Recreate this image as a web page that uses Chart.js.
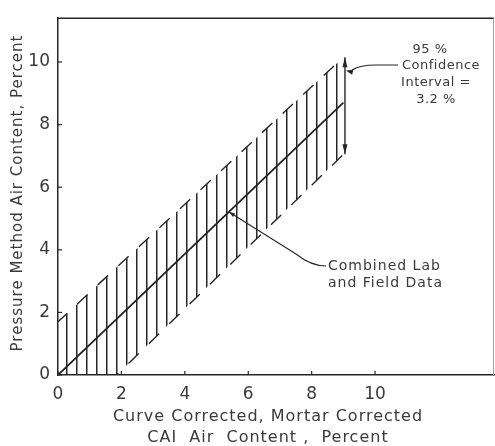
<!DOCTYPE html>
<html lang="en">
<head>
  <meta charset="UTF-8">
  <script src="https://cdn.jsdelivr.net/npm/chart.js"></script>
  <title>Air Content</title>
  <style>
    html, body { margin: 0; padding: 0; background: #fff; }
    #wrap { width: 495px; height: 446px; }
  </style>
</head>
<body>
  <div id="wrap"><canvas id="airChart" width="495" height="446"></canvas></div>

  <script>
    // values
    const centerX = [0, 9];
    const centerY = [0, 8.7];
    const upperX = [0, 9];
    const upperY = [1.7, 10.15];
    const lowerX = [0, 1.85, 9];
    const lowerY = [0, 0, 7.05];
    const xTicks = [0, 2, 4, 6, 8, 10];
    const yTicks = [0, 2, 4, 6, 8, 10];
    const xTickLabels = ['0', '2', '4', '6', '8', '10'];
    const yTickLabels = ['0', '2', '4', '6', '8', '10'];
    const ciX = 9.05;
    const ciLow = 7.05;
    const ciHigh = 10.15;
    const ciNote = ['95 %', 'Confidence', 'Interval =', '3.2 %'];
    const fitNote = ['Combined Lab', 'and Field Data'];
    const xTitle = ['Curve Corrected, Mortar Corrected', 'CAI  Air  Content ,  Percent'];
    const yTitle = 'Pressure Method Air Content, Percent';

    const ink = '#262626';
    const textInk = '#3a3a3a';
    const ctx = document.getElementById('airChart').getContext('2d');

    // vertical hatching for the confidence band
    const tile = document.createElement('canvas');
    tile.width = 10; tile.height = 10;
    const tctx = tile.getContext('2d');
    tctx.fillStyle = ink;
    tctx.fillRect(4, 0, 1.5, 10);
    const hatch = ctx.createPattern(tile, 'repeat');
    hatch.setTransform(new DOMMatrix().translateSelf(62, 0));

    const toPts = (xs, ys) => xs.map((x, i) => ({ x: x, y: ys[i] }));

    function arrowHead(c, x, y, ang, len, half) {
      c.save();
      c.translate(x, y);
      c.rotate(ang);
      c.beginPath();
      c.moveTo(0, 0);
      c.lineTo(-len, -half);
      c.lineTo(-len, half);
      c.closePath();
      c.fill();
      c.restore();
    }

    const extras = {
      id: 'extras',
      afterDraw(chart) {
        const c = chart.ctx;
        const a = chart.chartArea;
        const xs = chart.scales.x, ys = chart.scales.y;
        c.save();
        c.strokeStyle = ink;
        c.fillStyle = ink;

        // frame top and right
        c.lineWidth = 1.5;
        c.beginPath(); c.moveTo(a.left, a.top); c.lineTo(a.right, a.top); c.stroke();
        c.strokeStyle = '#a0a0a0';
        c.lineWidth = 1;
        c.beginPath(); c.moveTo(a.right - 0.5, a.top); c.lineTo(a.right - 0.5, a.bottom); c.stroke();
        c.strokeStyle = ink;

        // small inward ticks
        c.lineWidth = 1.2;
        xs.ticks.forEach(t => {
          const px = xs.getPixelForValue(t.value);
          c.beginPath(); c.moveTo(px, a.bottom); c.lineTo(px, a.bottom - 4); c.stroke();
        });
        ys.ticks.forEach(t => {
          const py = ys.getPixelForValue(t.value);
          c.beginPath(); c.moveTo(a.left, py); c.lineTo(a.left + 4, py); c.stroke();
        });

        // confidence interval double arrow
        const cx = xs.getPixelForValue(ciX);
        const cTop = ys.getPixelForValue(ciHigh);
        const cBot = ys.getPixelForValue(ciLow);
        c.lineWidth = 1.4;
        c.beginPath(); c.moveTo(cx, cTop); c.lineTo(cx, cBot); c.stroke();
        arrowHead(c, cx, cTop, -Math.PI / 2, 10, 2.5);
        arrowHead(c, cx, cBot, Math.PI / 2, 10, 2.5);

        // leader to confidence note
        c.lineWidth = 1.1;
        c.beginPath();
        c.moveTo(398, 65);
        c.lineTo(376, 65);
        c.quadraticCurveTo(360, 65, 352, 70);
        c.stroke();
        arrowHead(c, cx + 1, 70.5, Math.PI + 0.25, 7, 2.5);

        // leader to fitted line note
        c.beginPath();
        c.moveTo(229, 212);
        c.lineTo(296, 254);
        c.quadraticCurveTo(311, 266, 326, 266);
        c.stroke();
        arrowHead(c, 229, 212, Math.atan2(-42, -67), 6, 2);

        // notes
        c.fillStyle = textInk;
        c.textBaseline = 'middle';
        c.font = '13px "DejaVu Sans"';
        c.letterSpacing = '0.5px';
        c.textAlign = 'center';
        const noteX = [430, 441, 436, 436];
        const noteY = [50, 66, 83, 100];
        ciNote.forEach((s, i) => c.fillText(s, noteX[i], noteY[i]));

        c.font = '14px "DejaVu Sans"';
        c.letterSpacing = '1px';
        c.textAlign = 'left';
        fitNote.forEach((s, i) => c.fillText(s, 328, 266 + i * 17.5));

        // axis titles
        c.font = '16px "DejaVu Sans"';
        c.letterSpacing = '1px';
        c.textAlign = 'center';
        xTitle.forEach((s, i) => c.fillText(s, 268, 417 + i * 21));

        c.font = '15px "DejaVu Sans"';
        c.letterSpacing = '1px';
        c.translate(18, 193);
        c.rotate(-Math.PI / 2);
        c.fillText(yTitle, 0, 0);
        c.restore();
      }
    };

    new Chart(ctx, {
      type: 'line',
      data: {
        datasets: [
          {
            label: 'Upper limit',
            data: toPts(upperX, upperY),
            borderColor: ink,
            borderWidth: 1.4,
            borderDash: [14, 14],
            borderDashOffset: 1.7,
            backgroundColor: hatch,
            fill: '+1',
            pointRadius: 0,
            tension: 0
          },
          {
            label: 'Lower limit',
            data: toPts(lowerX, lowerY),
            borderColor: ink,
            borderWidth: 1.4,
            borderDash: [14.2, 14.2],
            borderDashOffset: 10,
            fill: false,
            pointRadius: 0,
            tension: 0
          },
          {
            label: 'Combined Lab and Field Data',
            data: toPts(centerX, centerY),
            borderColor: '#1c1c1c',
            borderWidth: 1.7,
            fill: false,
            pointRadius: 0,
            tension: 0
          }
        ]
      },
      options: {
        responsive: false,
        animation: false,
        layout: { padding: { top: 10, right: 1, left: 0, bottom: 0 } },
        plugins: {
          legend: { display: false },
          tooltip: { enabled: false }
        },
        scales: {
          x: {
            type: 'linear',
            min: 0,
            max: 13.75,
            afterBuildTicks: axis => { axis.ticks = xTicks.map(v => ({ value: v })); },
            afterFit: axis => { axis.height = 71; },
            grid: { display: false, drawTicks: false },
            border: { display: true, color: ink, width: 1.5 },
            ticks: {
              padding: 9,
              color: textInk,
              font: { family: 'DejaVu Sans', size: 17 },
              autoSkip: false,
              maxRotation: 0,
              callback: (v) => xTickLabels[xTicks.indexOf(v)]
            }
          },
          y: {
            type: 'linear',
            min: 0,
            max: 11.4,
            afterBuildTicks: axis => { axis.ticks = yTicks.map(v => ({ value: v })); },
            afterFit: axis => { axis.width = 58; },
            grid: { display: false, drawTicks: false },
            border: { display: true, color: ink, width: 1.5 },
            ticks: {
              padding: 8,
              color: textInk,
              font: { family: 'DejaVu Sans', size: 17 },
              autoSkip: false,
              callback: (v) => yTickLabels[yTicks.indexOf(v)]
            }
          }
        }
      },
      plugins: [extras]
    });
  </script>
</body>
</html>
